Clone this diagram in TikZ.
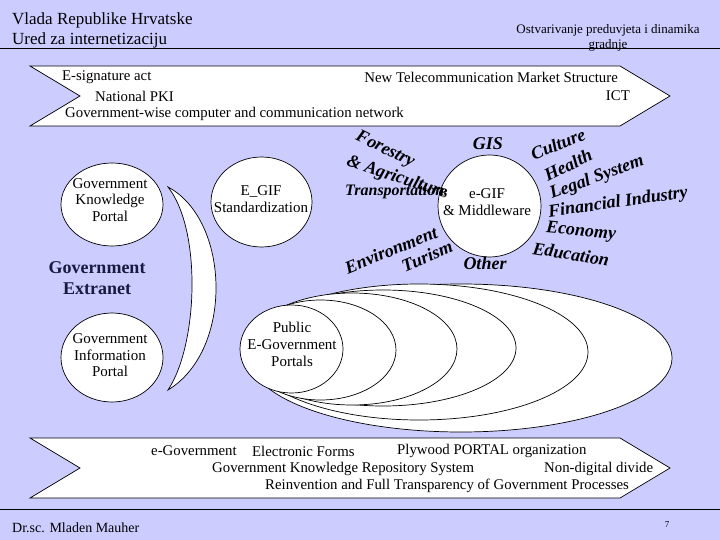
\documentclass[tikz,border=0pt]{standalone}
\usepackage{fontspec}
\setmainfont{Liberation Serif}
\usepackage{tikz}
\usetikzlibrary{shapes.geometric}
\definecolor{slidebg}{HTML}{CCCCFF}
\definecolor{inkdark}{HTML}{1A1A40}
\tikzset{
  bubble/.style    = {ellipse, draw=black, fill=white, line width=0.7pt, inner sep=0pt},
  bubbletxt/.style = {align=center, inner sep=0pt, font=\fontsize{15}{16.5}\selectfont},
  bandshape/.style = {draw=black, fill=white, line width=0.7pt},
  bandtxt/.style   = {inner sep=0pt, font=\fontsize{14.8}{17}\selectfont},
  areaword/.style  = {inner sep=0pt, font=\fontsize{18}{20}\selectfont\bfseries\itshape},
  hdrtxt/.style    = {anchor=west, inner sep=0pt, font=\fontsize{17}{20}\selectfont},
  ruleline/.style  = {line width=0.8pt, black},
}

\begin{document}
\begin{tikzpicture}[x=1pt,y=-1pt]
\fill[slidebg] (0,0) rectangle (720,540);
\useasboundingbox (0,0) rectangle (720,540);

% header
\node[hdrtxt] (hdrA) at (12,20) {Vlada Republike Hrvatske};
\node[hdrtxt] (hdrB) at (12,40) {Ured za internetizaciju};
\node[align=center, inner sep=0pt, font=\fontsize{13}{15}\selectfont] (hdrC) at (608,38)
  {Ostvarivanje preduvjeta i dinamika\\gradnje};
\draw[ruleline] (0,48) -- (720,48);

% top band
\draw[bandshape] (30,66) -- (620,66) -- (670,96) -- (620,126) -- (30,126) -- (80,96) -- cycle;
\node[bandtxt, anchor=west] (tA) at (62,77)  {E-signature act};
\node[bandtxt, anchor=west] (tB) at (95,96)  {National PKI};
\node[bandtxt, anchor=west] (tC) at (65,114) {Government-wise computer and communication network};
\node[bandtxt, anchor=east] (tD) at (618,77) {New Telecommunication Market Structure};
\node[bandtxt, anchor=east] (tE) at (630,96) {ICT};

% left column
\node[bubble, minimum width=102pt, minimum height=83pt] (gkp) at (112,204.5) {};
\node[bubbletxt] (gkpt) at (110,200) {Government\\Knowledge\\Portal};
\node[bubble, minimum width=101pt, minimum height=90pt] (egs) at (261.5,202) {};
\node[bubbletxt, font=\fontsize{15}{17}\selectfont] (egst) at (261,199.5) {E\_GIF\\Standardization};
\node[align=center, inner sep=0pt, text=inkdark, font=\fontsize{18}{21}\selectfont\bfseries] (extra) at (97,278.5)
  {Government\\Extranet};
\node[bubble, minimum width=102pt, minimum height=89pt] (gip) at (112,357.5) {};
\node[bubbletxt] (gipt) at (110,355.5) {Government\\Information\\Portal};

% crescent
\draw[bandshape] (168,187) .. controls (230,220) and (234,350) .. (168,390)
  .. controls (198,345) and (202,230) .. (168,187) -- cycle;

% e-GIF hub and areas
\node[bubble, minimum width=103pt, minimum height=102pt] (hub) at (489.5,206) {};
\node[bubbletxt, font=\fontsize{15}{17}\selectfont] (hubt) at (487,202.5) {e-GIF\\\& Middleware};

\node[areaword, rotate=-26] (wFor)  at (385,150) {Forestry};
\node[areaword, rotate=-18] (wAgr)  at (397,178) {\& Agriculture};
\node[areaword, anchor=west, font=\fontsize{16}{18}\selectfont\bfseries\itshape] (wTra) at (345,192) {Transportation,};
\node[areaword] (wGis) at (488,144) {GIS};
\node[areaword, rotate=22] (wCul) at (558,144) {Culture};
\node[areaword, rotate=26] (wHea) at (568,165) {Health};
\node[areaword, rotate=20] (wLeg) at (597,178) {Legal System};
\node[areaword, rotate=8]  (wFin) at (618,203) {Financial Industry};
\node[areaword, rotate=-5] (wEco) at (581,232) {Economy};
\node[areaword, rotate=-9] (wEdu) at (571,254) {Education};
\node[areaword] (wOth) at (485,263) {Other};
\node[areaword, rotate=23] (wTur) at (427,256) {Turism};
\node[areaword, rotate=22] (wEnv) at (391,250) {Environment};

% nested portals
\foreach \cx/\cy/\rx/\ry in {461/358/211/74, 419/352/169/68, 383/348/133/58, 352/349/105/56, 320.5/350/75.5/50}
  \draw[bandshape] (\cx,\cy) ellipse [x radius=\rx, y radius=\ry];
\node[bubble, minimum width=103pt, minimum height=88pt] (pegp) at (291.5,349) {};
\node[bubbletxt, font=\fontsize{15}{17}\selectfont] (pegpt) at (292,344) {Public\\E-Government\\Portals};

% bottom band
\draw[bandshape] (30,438) -- (620,438) -- (670,468) -- (620,498) -- (30,498) -- (80,468) -- cycle;
\node[bandtxt, anchor=west] (bA) at (151,451) {e-Government};
\node[bandtxt, anchor=west] (bB) at (252,451) {Electronic Forms};
\node[bandtxt, anchor=west] (bC) at (397,451) {Plywood PORTAL organization};
\node[bandtxt, anchor=west] (bD) at (212,469) {Government Knowledge Repository System};
\node[bandtxt, anchor=west] (bE) at (544,469) {Non-digital divide};
\node[bandtxt, anchor=west] (bF) at (265,486) {Reinvention and Full Transparency of Government Processes};

% footer
\draw[ruleline] (0,509) -- (720,509);
\node[anchor=west, inner sep=0pt, font=\fontsize{14}{16}\selectfont] (foot) at (12,528) {Dr.sc. Mladen Mauher};
\node[inner sep=0pt, font=\fontsize{9}{10}\selectfont] (pgno) at (667,525) {7};
\end{tikzpicture}
\end{document}
